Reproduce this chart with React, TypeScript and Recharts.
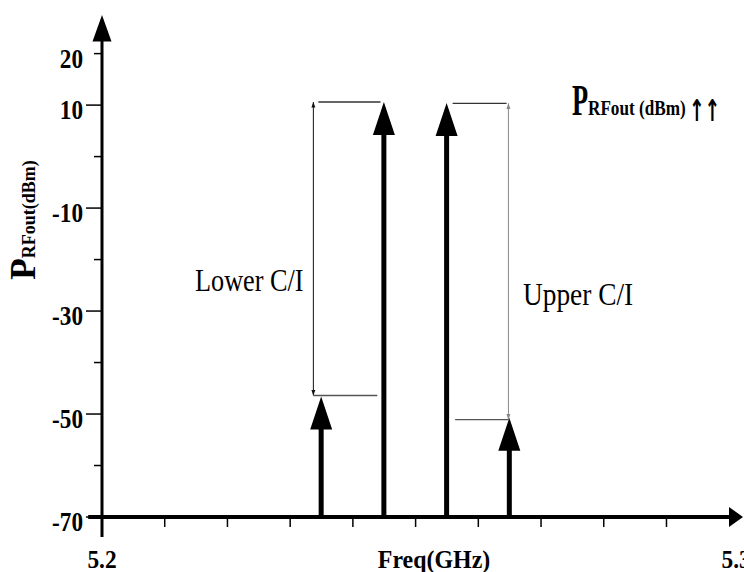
import React from 'react'
import { ComposedChart, Bar, XAxis, YAxis, ReferenceLine, ReferenceDot } from 'recharts'

// two-tone test: carriers in the middle, IM3 products either side
const toneFreqs = [5.235, 5.245, 5.255, 5.265]
const tonePower = [-46.6, 10.6, 10.4, -50.7]

const yTicks = [-70, -60, -50, -40, -30, -20, -10, 0, 10, 20]
const yTickLabels = [20, 10, -10, -30, -50, -70]
const yLongTicks = [10, -10, -30, -50, -70]
const xTicks = [5.2, 5.21, 5.22, 5.23, 5.24, 5.25, 5.26, 5.27, 5.28, 5.29, 5.3]
const xTickLabels = ['5.2', '5.3']

// C/I dimension lines (lower, upper)
const ciLabels = ['Lower C/I', 'Upper C/I']
const ciFreqs = [5.2337, 5.2648]
const ciTop = [10.6, 10.35]
const ciBottom = [-46.4, -51.1]
const ciTopSpan = [
  [5.2345, 5.2444],
  [5.2559, 5.2645],
]
const ciBottomSpan = [
  [5.2337, 5.2439],
  [5.2563, 5.265],
]

const X_MIN = 5.2
const X_MAX = 5.3022
const Y_MIN = -70
const Y_MAX = 27.5

const SERIF = "'Liberation Serif', 'Times New Roman', serif"

const data = toneFreqs.map((f, i) => ({ freq: f, range: [Y_MIN, tonePower[i]] }))

// eslint-disable-next-line @typescript-eslint/no-explicit-any
function ToneArrow(props: any) {
  const { x, y, width, height } = props
  const cx = x + width / 2
  const top = Math.min(y, y + height)
  const bottom = Math.max(y, y + height)
  const head = 33
  return (
    <g>
      <rect x={cx - 2.5} y={top + head - 1} width={5} height={bottom - top - head + 1} fill="#000" />
      <polygon points={`${cx},${top} ${cx - 11},${top + head} ${cx + 11},${top + head}`} fill="#000" />
    </g>
  )
}

// eslint-disable-next-line @typescript-eslint/no-explicit-any
function FreqTick({ x, y, payload }: any) {
  const v = payload.value as number
  let label: string | null = null
  if (Math.abs(v - 5.2) < 1e-6) label = xTickLabels[0]
  if (Math.abs(v - 5.3) < 1e-6) label = xTickLabels[1]
  const drawLine = v > 5.205 && v < 5.295
  return (
    <g>
      {drawLine && <line x1={x} x2={x} y1={y + 1} y2={y + 10} stroke="#000" strokeWidth={1.5} />}
      {label && (
        <text
          transform={`translate(${label === '5.3' ? x + 7 : x},${y + 51}) scale(0.9,1)`}
          textAnchor="middle"
          fontFamily={SERIF}
          fontWeight="bold"
          fontSize={26}
          fill="#000"
        >
          {label}
        </text>
      )}
    </g>
  )
}

// eslint-disable-next-line @typescript-eslint/no-explicit-any
function PowerTick({ x, y, payload }: any) {
  const v = payload.value as number
  const len = yLongTicks.includes(v) ? 16 : 8
  return (
    <g>
      <line x1={x - len} x2={x} y1={y} y2={y} stroke="#000" strokeWidth={1.5} />
      {yTickLabels.includes(v) && (
        <text
          transform={`translate(${x - 19},${y + 14}) scale(0.86,1)`}
          textAnchor="end"
          fontFamily={SERIF}
          fontWeight="bold"
          fontSize={27}
          fill="#000"
        >
          {v}
        </text>
      )}
    </g>
  )
}

// eslint-disable-next-line @typescript-eslint/no-explicit-any
const headUp = (size: number, color: string) => (p: any) =>
  (
    <polygon
      points={`${p.cx},${p.cy} ${p.cx - size / 2},${p.cy + size * 1.4} ${p.cx + size / 2},${p.cy + size * 1.4}`}
      fill={color}
    />
  )

// eslint-disable-next-line @typescript-eslint/no-explicit-any
const headDown = (size: number, color: string) => (p: any) =>
  (
    <polygon
      points={`${p.cx},${p.cy} ${p.cx - size / 2},${p.cy - size * 1.4} ${p.cx + size / 2},${p.cy - size * 1.4}`}
      fill={color}
    />
  )

// eslint-disable-next-line @typescript-eslint/no-explicit-any
const headRight = (p: any) => (
  <polygon points={`${p.cx},${p.cy} ${p.cx - 14},${p.cy - 10} ${p.cx - 14},${p.cy + 10}`} fill="#000" />
)

export default function App() {
  const ciColors = ['#111', '#888']
  return (
    <div style={{ position: 'absolute', left: 0, top: 0, width: 744, height: 572, background: '#fff' }}>
      <ComposedChart
        width={744}
        height={572}
        data={data}
        margin={{ top: 15, right: 1, bottom: 0, left: 0 }}
      >
        <XAxis
          dataKey="freq"
          type="number"
          domain={[X_MIN, X_MAX]}
          allowDataOverflow
          ticks={xTicks}
          interval={0}
          height={55}
          axisLine={false}
          tickLine={false}
          tickSize={0}
          tickMargin={0}
          tick={<FreqTick />}
        />
        <YAxis
          type="number"
          domain={[Y_MIN, Y_MAX]}
          allowDataOverflow
          ticks={yTicks}
          interval={0}
          width={102}
          axisLine={false}
          tickLine={false}
          tickSize={0}
          tickMargin={0}
          tick={<PowerTick />}
        />

        {/* axes with arrow heads */}
        <ReferenceLine
          segment={[
            { x: 5.1978, y: Y_MIN },
            { x: 5.3, y: Y_MIN },
          ]}
          stroke="#000"
          strokeWidth={4}
          ifOverflow="visible"
        />
        <ReferenceDot x={X_MAX} y={Y_MIN} ifOverflow="visible" shape={headRight} />
        <ReferenceLine
          segment={[
            { x: X_MIN, y: -73.9 },
            { x: X_MIN, y: 24 },
          ]}
          stroke="#000"
          strokeWidth={3}
          ifOverflow="visible"
        />
        <ReferenceDot x={X_MIN} y={Y_MAX} ifOverflow="visible" shape={headUp(19, '#000')} />

        {/* C/I dimension lines */}
        {ciFreqs.map((f, i) => (
          <ReferenceLine
            key={`civ${i}`}
            segment={[
              { x: f, y: ciBottom[i] },
              { x: f, y: ciTop[i] },
            ]}
            stroke={ciColors[i]}
            strokeWidth={1}
            ifOverflow="visible"
          />
        ))}
        {ciFreqs.map((f, i) => (
          <ReferenceDot key={`ciu${i}`} x={f} y={ciTop[i]} ifOverflow="visible" shape={headUp(4, ciColors[i])} />
        ))}
        {ciFreqs.map((f, i) => (
          <ReferenceDot key={`cid${i}`} x={f} y={ciBottom[i]} ifOverflow="visible" shape={headDown(4, ciColors[i])} />
        ))}
        {ciTopSpan.map((s, i) => (
          <ReferenceLine
            key={`cit${i}`}
            segment={[
              { x: s[0], y: ciTop[i] },
              { x: s[1], y: ciTop[i] },
            ]}
            stroke="#333"
            strokeWidth={1.3}
            ifOverflow="visible"
          />
        ))}
        {ciBottomSpan.map((s, i) => (
          <ReferenceLine
            key={`cib${i}`}
            segment={[
              { x: s[0], y: ciBottom[i] },
              { x: s[1], y: ciBottom[i] },
            ]}
            stroke="#555"
            strokeWidth={1.3}
            ifOverflow="visible"
          />
        ))}

        <Bar dataKey="range" barSize={22} shape={<ToneArrow />} isAnimationActive={false} />
      </ComposedChart>

      <svg
        width={744}
        height={572}
        style={{ position: 'absolute', left: 0, top: 0, pointerEvents: 'none' }}
      >
        {/* y axis title */}
        <text
          transform="translate(35,220) rotate(-90)"
          textAnchor="middle"
          fontFamily={SERIF}
          fontWeight="bold"
          fill="#000"
        >
          <tspan fontSize={35}>P</tspan>
          <tspan fontSize={18}>RFout(dBm)</tspan>
        </text>

        {/* x axis title */}
        <text
          transform="translate(434,568) scale(0.92,1)"
          textAnchor="middle"
          fontFamily={SERIF}
          fontWeight="bold"
          fontSize={26}
          fill="#000"
        >
          Freq(GHz)
        </text>

        {/* C/I annotations */}
        <text transform="translate(195,291) scale(0.82,1)" fontFamily={SERIF} fontSize={32} fill="#000">
          {ciLabels[0]}
        </text>
        <text transform="translate(523,305) scale(0.855,1)" fontFamily={SERIF} fontSize={32} fill="#000">
          {ciLabels[1]}
        </text>

        {/* top-right power label */}
        <text
          transform="translate(572,115) scale(0.6,1)"
          fontFamily={SERIF}
          fontWeight="bold"
          fontSize={44}
          fill="#000"
        >
          P
        </text>
        <text transform="translate(588,115) scale(0.78,1)" fontFamily={SERIF} fontWeight="bold" fontSize={22} fill="#000">
          RFout (dBm)
        </text>
        <text
          transform="translate(689,121) scale(0.62,1)"
          fontFamily="'DejaVu Sans', sans-serif"
          fontWeight="bold"
          fontSize={30}
          fill="#000"
        >
          ↑↑
        </text>
      </svg>
    </div>
  )
}
